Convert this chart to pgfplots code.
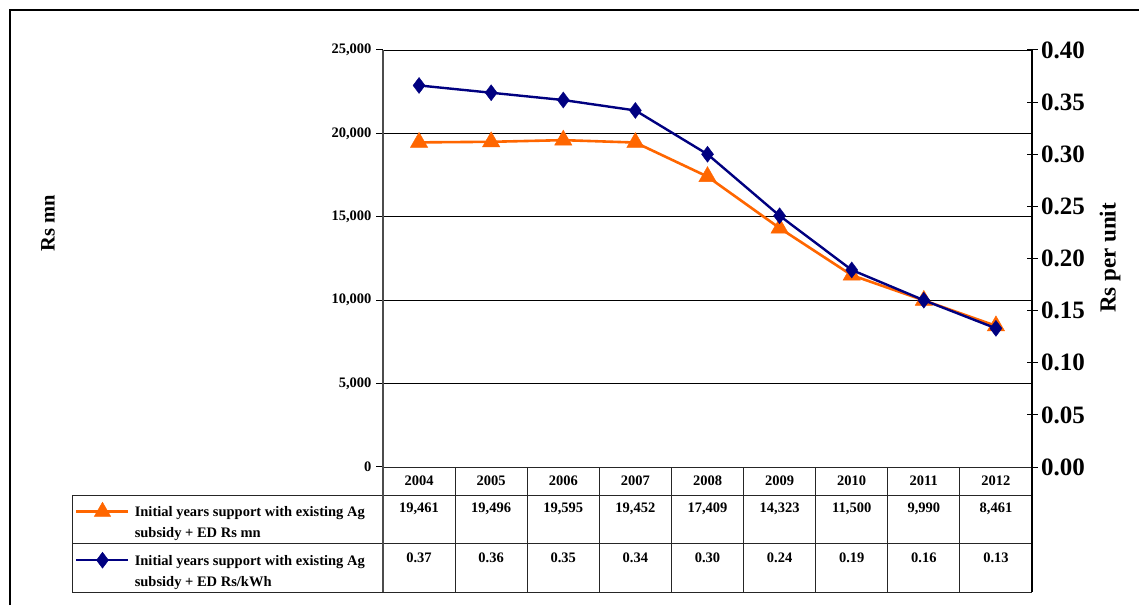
\documentclass[border=0pt]{standalone}
\usepackage{pgfplots}
\pgfplotsset{compat=1.18}
\usepackage{fontspec}
\setmainfont{Liberation Serif}
\definecolor{orng}{HTML}{FF6600}
\definecolor{navyb}{HTML}{000080}
\begin{document}
\begin{tikzpicture}[x=1pt,y=1pt]
\useasboundingbox (0,0) rectangle (1139,605);
\fill[white] (0,0) rectangle (1139,605);
\draw[line width=1.2pt,black] (10,0) -- (10,595) -- (1139,595);

% left axis (Rs mn)
\begin{axis}[
  at={(383pt,138pt)}, anchor=south west, scale only axis,
  width=649pt, height=417pt,
  xmin=-0.5, xmax=8.5, ymin=0, ymax=25000,
  axis lines*=left,
  x axis line style={draw=none}, xtick=\empty,
  y axis line style={line width=1.6pt, black!70},
  ytick={0,5000,10000,15000,20000,25000},
  ymajorgrids, grid style={black, line width=0.8pt},
  tick align=outside, major tick length=7pt,
  ytick style={black, line width=1pt},
  scaled y ticks=false,
  yticklabel style={font=\bfseries\fontsize{14.5}{16}\selectfont, xshift=-1pt},
  /pgf/number format/1000 sep={,},
  /pgf/number format/assume math mode=true,
  clip=false,
]
\addplot[orng, line width=2.6pt, mark=triangle*, mark size=10pt,
  mark options={solid, line width=0.4pt}] coordinates {
  (0,19461) (1,19496) (2,19595) (3,19452) (4,17409)
  (5,14323) (6,11500) (7,9990) (8,8461)};
\end{axis}

% right axis (Rs per unit)
\begin{axis}[
  at={(383pt,138pt)}, anchor=south west, scale only axis,
  width=649pt, height=417pt,
  xmin=-0.5, xmax=8.5, ymin=0, ymax=0.4,
  axis x line=none, axis y line*=right,
  y axis line style={line width=1.2pt, black},
  ytick={0,0.05,0.1,0.15,0.2,0.25,0.3,0.35,0.4},
  tick align=center, major tick length=11pt,
  ytick style={black, line width=1pt},
  scaled y ticks=false,
  yticklabel style={font=\bfseries\fontsize{25}{28}\selectfont,
    /pgf/number format/fixed, /pgf/number format/fixed zerofill,
    /pgf/number format/precision=2, xshift=0pt},
  /pgf/number format/assume math mode=true,
  clip=false,
  legend style={at={(-0.4746,-0.0839)}, anchor=north west, draw=none, fill=none,
    inner sep=0pt, row sep=32pt, column sep=3pt,
    cells={anchor=base west},
    font=\bfseries\fontsize{14.5}{21}\selectfont},
  legend image code/.code={\draw[#1] plot coordinates {(0pt,5pt) (26pt,5pt) (52pt,5pt)};},
  legend image post style={mark repeat=2, mark phase=2},
]
\addlegendimage{orng, line width=2.6pt, mark=triangle*, mark size=9.5pt,
  mark options={solid, line width=0.4pt}}
\addlegendentry{\parbox[t]{250pt}{Initial years support with existing Ag\\subsidy + ED Rs mn}}
\addplot[navyb, line width=2.4pt, mark=diamond*, mark size=8pt,
  mark options={solid, line width=0.4pt}] coordinates {
  (0,0.366) (1,0.359) (2,0.352) (3,0.342) (4,0.300)
  (5,0.241) (6,0.189) (7,0.160) (8,0.133)};
\addlegendentry{\parbox[t]{250pt}{Initial years support with existing Ag\\subsidy + ED Rs/kWh}}
\end{axis}

% axis titles
\node[rotate=90, font=\bfseries\fontsize{20.5}{24}\selectfont] at (48,382) {Rs mn};
\node[rotate=90, font=\bfseries\fontsize{23}{26}\selectfont] at (1110,347) {Rs per unit};

% data table grid
\begin{scope}[black!85, line width=1pt]
\draw (383,138) -- (1032,138);
\draw (72,110) -- (1032,110);
\draw (72,62) -- (1032,62);
\draw (72,13) -- (1032,13);
\draw (72,110) -- (72,13);
\foreach \k in {1,...,8} \draw ({383+72.11*\k},138) -- ({383+72.11*\k},13);
\draw[line width=1.6pt, black!70] (383,138) -- (383,13);
\draw[line width=1.2pt, black] (1032,138) -- (1032,13);
\end{scope}

\foreach \k/\yr/\a/\b in {0/2004/{19,461}/0.37, 1/2005/{19,496}/0.36,
  2/2006/{19,595}/0.35, 3/2007/{19,452}/0.34, 4/2008/{17,409}/0.30,
  5/2009/{14,323}/0.24, 6/2010/{11,500}/0.19, 7/2011/{9,990}/0.16,
  8/2012/{8,461}/0.13}{
  \node[font=\bfseries\fontsize{14.5}{16}\selectfont] at ({383+72.11*(\k+0.5)},124) {\yr};
  \node[font=\bfseries\fontsize{14.5}{16}\selectfont] at ({383+72.11*(\k+0.5)},96) {\a};
  \node[font=\bfseries\fontsize{14.5}{16}\selectfont] at ({383+72.11*(\k+0.5)},47) {\b};
}
\end{tikzpicture}
\end{document}
